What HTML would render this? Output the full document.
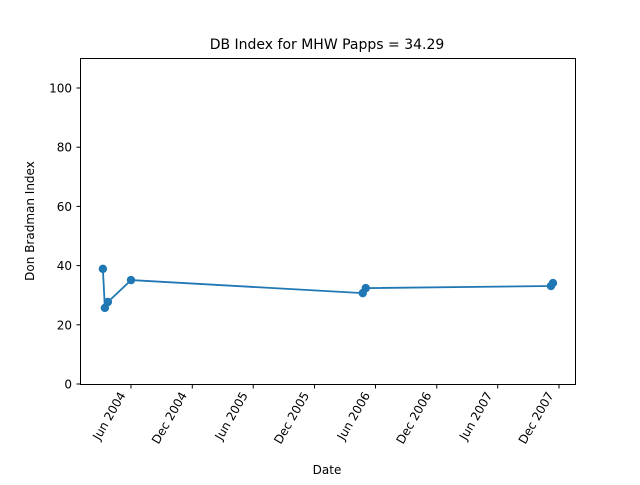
<!DOCTYPE html>
<html><head><meta charset="utf-8"><style>
body{margin:0;background:#fff}
svg text{font-family:"DejaVu Sans","Liberation Sans",sans-serif;fill:#000}
</style></head><body>
<svg id="chart" width="640" height="480" xmlns="http://www.w3.org/2000/svg">
<rect width="640" height="480" fill="#fff"/>
<text x="327" y="49" font-size="14" text-anchor="middle">DB Index for MHW Papps = 34.29</text>
<text x="0" y="0" font-size="12" text-anchor="middle" transform="translate(34,221) rotate(-90)">Don Bradman Index</text>
<text x="327" y="474" font-size="12" text-anchor="middle">Date</text>
<g id="plot"></g>
<rect x="80.5" y="58.5" width="495" height="326" fill="none" stroke="#000" stroke-width="1"/>
</svg>
<script>
const dates=["2004-03-09","2004-03-15","2004-03-24","2004-06-01","2006-04-24","2006-05-03","2007-11-07","2007-11-13"];
const values=[38.9,25.7,27.7,35.1,30.7,32.4,33.1,34.1];
const yTicks=[0,20,40,60,80,100];
const xTickLabels=["Jun 2004","Dec 2004","Jun 2005","Dec 2005","Jun 2006","Dec 2006","Jun 2007","Dec 2007"];
const xTickDates=["2004-06-01","2004-12-01","2005-06-01","2005-12-01","2006-06-01","2006-12-01","2007-06-01","2007-12-01"];
const NS="http://www.w3.org/2000/svg";
const g=document.getElementById('plot');
const t0=Date.parse("2004-06-01"),t1=Date.parse("2007-12-01");
function xs(d){return 131+(Date.parse(d)-t0)/(t1-t0)*(559-131);}
function ys(v){return 384-v*(384-88)/100;}
function mk(tag,attrs){const e=document.createElementNS(NS,tag);for(const k in attrs)e.setAttribute(k,attrs[k]);g.appendChild(e);return e;}
yTicks.forEach(v=>{
 const y=ys(v);
 const l=mk('line',{x1:76.5,x2:80.5,y1:y,y2:y,stroke:'#000'});
 
 
 const t=mk('text',{x:72,y:y+4.5,'font-size':12,'text-anchor':'end'});
 t.textContent=v;
 
 
});
xTickDates.forEach((d,i)=>{
 const x=xs(d);
 const l=mk('line',{x1:x,x2:x,y1:384.5,y2:388.5,stroke:'#000'});
 
 
 const t=mk('text',{x:0,y:0,'font-size':12,'text-anchor':'end',transform:`translate(${x-5},${395}) rotate(-60)`});
 t.textContent=xTickLabels[i];
 
 
});
const pts=dates.map((d,i)=>xs(d)+','+ys(values[i])).join(' ');
const line=mk('polyline',{points:pts,fill:'none',stroke:'#1f77b4','stroke-width':1.8});


dates.forEach((d,i)=>{
 const c=mk('circle',{cx:xs(d),cy:ys(values[i]),r:4.2,fill:'#1f77b4'});
 
 
});
</script>
</body></html>
